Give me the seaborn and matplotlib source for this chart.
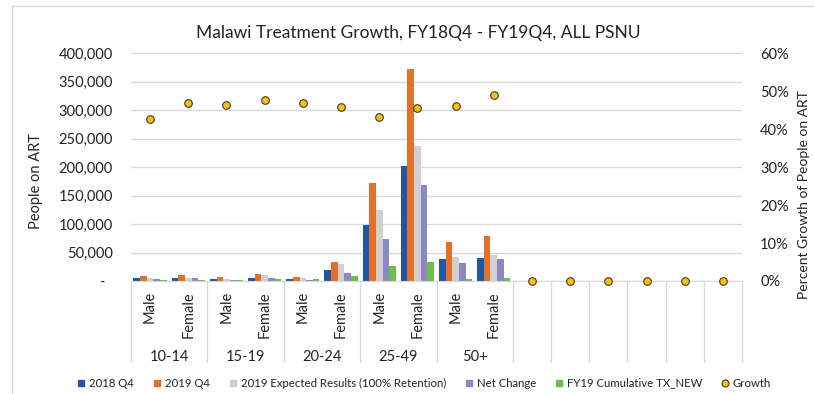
import matplotlib
matplotlib.use('Agg')
import matplotlib.pyplot as plt
import matplotlib.transforms as mtransforms
import seaborn as sns
import pandas as pd
import numpy as np
from matplotlib.lines import Line2D
from matplotlib.patches import Rectangle
from matplotlib.ticker import FuncFormatter, PercentFormatter

# age groups x sex, then 6 empty slots on the right
groups = ['10-14', '15-19', '20-24', '25-49', '50+']
sexes = ['Male', 'Female']
n_blank = 6

q4_2018 = [4500, 4500, 3500, 5500, 3500, 18500, 98000, 202000, 38000, 40500]
q4_2019 = [9500, 11000, 7500, 13000, 7000, 34000, 173000, 373000, 69000, 79000]
expected = [6000, 6000, 3500, 11000, 5500, 29000, 125500, 237500, 41700, 46400]
net_change = [3500, 4500, 2500, 5500, 2500, 14500, 74500, 169500, 32300, 39400]
tx_new = [1000, 1000, 1000, 3500, 3000, 9500, 27000, 34000, 3500, 4700]
growth = [0.426, 0.470, 0.464, 0.476, 0.470, 0.459, 0.432, 0.457, 0.461, 0.489,
          0, 0, 0, 0, 0, 0]

series_names = ['2018 Q4', '2019 Q4', '2019 Expected Results (100% Retention)',
                'Net Change', 'FY19 Cumulative TX_NEW']
series_colors = ['#1F56A5', '#E4702C', '#D0D0D0', '#8C88C4', '#6CBF48']
dot_color = '#FFC000'

cats = [f'{g} {s}' for g in groups for s in sexes]
all_cats = cats + [f'blank{i}' for i in range(n_blank)]

rows = []
for name, vals in zip(series_names, [q4_2018, q4_2019, expected, net_change, tx_new]):
    for c, v in zip(cats, vals):
        rows.append({'cat': c, 'series': name, 'value': v})
df = pd.DataFrame(rows)

sns.set_style('white')
plt.rcParams['font.family'] = ['Lato', 'DejaVu Sans']

W, H = 814, 394
fig = plt.figure(figsize=(W / 100, H / 100), dpi=100)
x0, x1, y0, y1 = 131, 742, 281, 53.3
ax = fig.add_axes([x0 / W, 1 - y0 / H, (x1 - x0) / W, (y0 - y1) / H])

sns.barplot(data=df, x='cat', y='value', hue='series', order=all_cats,
            hue_order=series_names, palette=series_colors, saturation=1,
            width=0.87, gap=0, errorbar=None, linewidth=0, legend=False, ax=ax)

ax.set_xlim(-0.5, len(all_cats) - 0.5)
ax.set_ylim(0, 400000)
ax.set_yticks(np.arange(0, 400001, 50000))
ax.yaxis.set_major_formatter(FuncFormatter(lambda v, p: '-  ' if v == 0 else f'{v:,.0f}'))
ax.yaxis.grid(True, color='#D9D9D9', lw=1)
ax.set_axisbelow(True)
for s in ['top', 'right', 'left']:
    ax.spines[s].set_visible(False)
ax.spines['bottom'].set_color('#D9D9D9')
ax.set_xticks([])
ax.set_xlabel('')
ax.tick_params(axis='y', length=0, pad=13, labelsize=10.5, labelcolor='#222222')
ax.set_ylabel('People on ART', fontsize=10.5, color='#222222')
ax.yaxis.set_label_coords(-0.144, (y0 - 181) / (y0 - y1))

# growth on the secondary axis
ax2 = ax.twinx()
sns.scatterplot(x=np.arange(len(all_cats)), y=growth, ax=ax2, color=dot_color,
                edgecolor='#3A3A3A', linewidth=0.8, s=30, zorder=5, clip_on=False)
ax2.set_ylim(0, 0.6)
ax2.set_yticks(np.arange(0, 0.61, 0.1))
ax2.yaxis.set_major_formatter(PercentFormatter(1.0, decimals=0))
ax2.tick_params(axis='y', length=0, pad=13, labelsize=10.5, labelcolor='#222222')
for s in ax2.spines.values():
    s.set_visible(False)
ax2.set_ylabel('Percent Growth of People on ART', fontsize=10, color='#222222')
ax2.yaxis.set_label_coords((798 - x0) / (x1 - x0), (y0 - 195) / (y0 - y1))

# multi-level category labels
trans = mtransforms.blended_transform_factory(ax.transData, ax.transAxes)
ah = y0 - y1
for i, c in enumerate(cats):
    ax.text(i, (y0 - 291) / ah, c.split(' ')[1], transform=trans, rotation=90,
            ha='center', va='top', fontsize=10.5, color='#222222')
for j, g in enumerate(groups):
    ax.text(2 * j + 0.5, (y0 - 357) / ah, g, transform=trans, ha='center',
            va='center', fontsize=10.5, color='#222222')
bounds = [-0.5 + 2 * j for j in range(len(groups) + 1)] + \
         [len(cats) - 0.5 + k for k in range(1, n_blank + 1)]
for b in bounds:
    ax.plot([b, b], [0, (y0 - 362) / ah], transform=trans, color='#D9D9D9',
            lw=1, clip_on=False)

fig.text(418 / W, 1 - 33 / H, 'Malawi Treatment Growth, FY18Q4 - FY19Q4, ALL PSNU',
         ha='center', va='center', fontsize=12.5, color='#222222')

# chart area border (right / bottom are cut off in the source)
fig.add_artist(Rectangle((12 / W, -0.2), 2, 1.2 - 6 / H, transform=fig.transFigure,
                         fill=False, edgecolor='#D9D9D9', lw=1))

handles = [Line2D([0], [0], marker='s', ls='none', markerfacecolor=c,
                  markeredgecolor=c, markersize=5) for c in series_colors]
handles.append(Line2D([0], [0], marker='o', ls='none', markerfacecolor=dot_color,
                      markeredgecolor='#3A3A3A', markeredgewidth=0.8, markersize=5))
fig.legend(handles, series_names + ['Growth'], loc='center',
           bbox_to_anchor=(424 / W, 1 - 383 / H), ncol=6, frameon=False,
           fontsize=8.2, handletextpad=0.3, columnspacing=1.6, handlelength=0.8,
           labelcolor='#222222')

fig.savefig('out.png', dpi=100)
